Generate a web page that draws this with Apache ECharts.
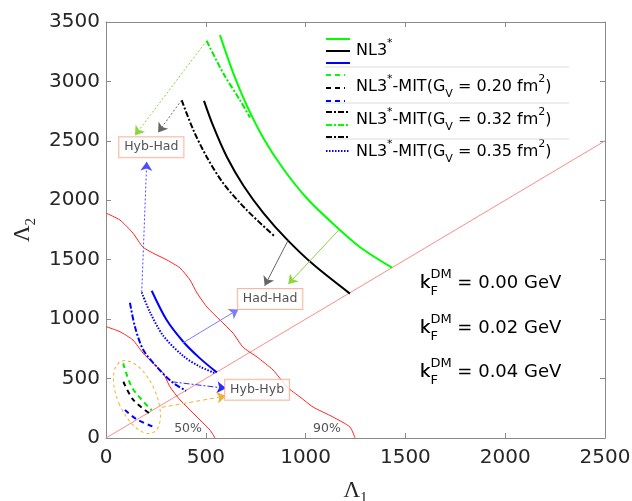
<!DOCTYPE html>
<html>
<head>
<meta charset="utf-8">
<script src="https://cdn.jsdelivr.net/npm/echarts@6/dist/echarts.min.js"></script>
<style>
  html, body { margin: 0; padding: 0; background: #fff; }
  #main { width: 632px; height: 501px; }
</style>
</head>
<body>
<div id="main"></div>
<script>
// axis ranges
var xRange = [0, 2500, 500];
var yRange = [0, 3500, 500];

// Λ2 = Λ1 line
var diagonal = [[0, 0], [2500, 2500]];

// credibility contours
var contour90 = [[3, 1890], [70, 1834], [135, 1724], [185, 1606], [235, 1556], [306, 1497], [371, 1430],
  [421, 1329], [456, 1220], [506, 1102], [571, 992], [636, 883], [686, 765], [757, 681], [837, 572],
  [907, 429], [972, 345], [1037, 261], [1137, 177], [1222, 93], [1248, 0]];
var contour50 = [[3, 936], [70, 894], [135, 824], [185, 715], [235, 631], [286, 547], [321, 429],
  [371, 320], [421, 236], [471, 151], [521, 67], [546, 0]];

// NL3* (solid)
var nl3Green = [[571, 3389], [638, 3067], [705, 2799], [788, 2525], [888, 2265], [1005, 2019], [1139, 1800], [1273, 1605], [1433, 1433]];
var nl3Black = [[491, 2837], [538, 2621], [605, 2366], [688, 2125], [788, 1895], [905, 1673], [1039, 1459], [1222, 1215]];
var nl3Blue = [[229, 1239], [304, 992], [387, 810], [471, 670], [555, 552]];

// NL3*-MIT Gv=0.32 (dash-dot)
var mit32Green = [[504, 3342], [588, 3067], [671, 2843], [721, 2697]];
var mit32Black = [[379, 2843], [438, 2590], [504, 2367], [588, 2142], [705, 1918], [842, 1701]];
var mit32Blue = [[120, 1138], [145, 936], [187, 740], [254, 600], [329, 473], [401, 397]];

// NL3*-MIT Gv=0.35 (dotted)
var mit35Blue = [[179, 1225], [220, 1060], [287, 860], [387, 690], [471, 600], [546, 546]];

// NL3*-MIT Gv=0.20 (dashed)
var mit20Green = [[86, 628], [132, 420], [229, 233]];
var mit20Black = [[87, 473], [137, 320], [229, 193]];
var mit20Blue = [[95, 235], [154, 157], [237, 95]];

// arrows: [from, to]
var arrowGreenHybHad = [[504, 3342], [145, 2546]];
var arrowGreenHadHad = [[1169, 1755], [913, 1295]];
var arrowGrayHybHad = [[379, 2843], [261, 2571]];
var arrowGrayHadHad = [[912, 1662], [795, 1280]];
var arrowBlueUp = [[179, 1225], [204, 2324]];
var arrowBlueHad = [[385, 800], [663, 1082]];
var arrowBlueHyb = [[329, 473], [601, 418]];
var arrowOrange = [[279, 258], [601, 353]];

// ellipse around the hybrid-hybrid curves (centre)
var ellipseCentre = [[155, 345]];

// boxed labels and contour labels
var boxLabels = [['Hyb-Had', 227, 2447], ['Had-Had', 822, 1169], ['Hyb-Hyb', 757, 406]];
var pctLabels = [['50%', 411, 81], ['90%', 1107, 81]];

var chart = echarts.init(document.getElementById('main'));

var FONT = 'DejaVu Sans';
var TXT = '#262626';

function curve(data, color, type, width) {
  return {
    type: 'line', data: data, showSymbol: false, symbol: 'none', smooth: 0.3,
    lineStyle: { color: color, width: width || 2, type: type || 'solid' },
    silent: true, z: 3
  };
}
function arrows(list, color, type) {
  return {
    type: 'lines', coordinateSystem: 'cartesian2d',
    symbol: ['none', 'arrow'], symbolSize: [0, 9],
    lineStyle: { color: color, width: 1, type: type || 'solid', opacity: 1 },
    data: list.map(function (p) { return { coords: p }; }),
    silent: true, z: 4
  };
}

var dashDot = [6, 2, 2, 2];
var dashed = [5, 4];
var dotted = [1.5, 1.5];

var axisCommon = {
  type: 'value',
  axisLine: { show: true, onZero: false, lineStyle: { color: '#8a8a8a', width: 1 } },
  axisTick: { show: true, inside: true, length: 5, lineStyle: { color: '#8a8a8a' } },
  splitLine: { show: false }
};
var tickLabel = { fontFamily: FONT, fontSize: 20, color: TXT, formatter: function (v) { return String(v); } };
var nameRich = {
  l: { fontFamily: 'Liberation Serif', fontSize: 23, color: TXT, lineHeight: 30 },
  s: { fontFamily: 'Liberation Serif', fontSize: 15, color: TXT, verticalAlign: 'bottom' }
};

// legend drawn as graphics: three stacked sample lines per entry
var legendX = 326;
var legendRows = [
  { y: 51, text: '{t|NL3}{sup|*}', lines: [[39, '#00ff00', 'solid', 24], [51, '#000', 'solid', 24], [63, '#0000ff', 'solid', 24]] },
  { y: 87, text: '{t|NL3}{sup|*}{t|-MIT(G}{sub|V}{t| = 0.20 fm}{sup|2}{t|)}', lines: [[75, '#00ff00', dashed, 19], [88, '#000', dashed, 19], [101, '#0000ff', dashed, 19]] },
  { y: 120, text: '{t|NL3}{sup|*}{t|-MIT(G}{sub|V}{t| = 0.32 fm}{sup|2}{t|)}', lines: [[112, '#000', dashDot, 23], [125, '#00ff00', dashDot, 23], [137, '#000', dashDot, 23]] },
  { y: 152, text: '{t|NL3}{sup|*}{t|-MIT(G}{sub|V}{t| = 0.35 fm}{sup|2}{t|)}', lines: [[151, '#0000ff', dotted, 23]] }
];
var richLegend = {
  t: { fontFamily: FONT, fontSize: 16, color: TXT, lineHeight: 26 },
  sup: { fontFamily: FONT, fontSize: 11, color: TXT, verticalAlign: 'top' },
  sub: { fontFamily: FONT, fontSize: 11, color: TXT, verticalAlign: 'bottom' }
};
var graphics = [];
legendRows.forEach(function (row) {
  row.lines.forEach(function (l) {
    graphics.push({
      type: 'line', shape: { x1: legendX, y1: l[0], x2: legendX + l[3], y2: l[0] },
      style: { stroke: l[1], lineWidth: 2, lineDash: l[2] === 'solid' ? null : l[2] }
    });
  });
  graphics.push({
    type: 'text', x: 356, y: row.y,
    style: { text: row.text, rich: richLegend, verticalAlign: 'middle', align: 'left' }
  });
});
[67, 103, 139].forEach(function (y) {
  graphics.push({ type: 'line', shape: { x1: 325, y1: y, x2: 569, y2: y }, style: { stroke: '#dcdcdc', lineWidth: 1 } });
});

// k_F^DM labels
var kfRows = [['0.00', '#66cc22', 283], ['0.02', '#000000', 328], ['0.04', '#0000ff', 372]];
kfRows.forEach(function (r) {
  var rich = {
    k: { fontFamily: FONT, fontSize: 18, color: r[1], lineHeight: 30 },
    kt: { fontFamily: FONT, fontSize: 18, color: 'rgba(0,0,0,0)', lineHeight: 30 },
    sup: { fontFamily: FONT, fontSize: 13, color: r[1], verticalAlign: 'top' },
    sub: { fontFamily: FONT, fontSize: 13, color: r[1], verticalAlign: 'bottom' }
  };
  graphics.push({ type: 'text', x: 420, y: r[2], style: { text: '{k|k}{sup|DM}{k| = ' + r[0] + ' GeV}', rich: rich, verticalAlign: 'middle' } });
  graphics.push({ type: 'text', x: 420, y: r[2], style: { text: '{kt|k}{sub|F}', rich: rich, verticalAlign: 'middle' } });
});

var option = {
  animation: false,
  backgroundColor: '#fff',
  grid: { left: 106, right: 27, top: 22, bottom: 63, outerBoundsMode: 'none', containLabel: false },
  xAxis: [
    Object.assign({}, axisCommon, {
      position: 'bottom', min: xRange[0], max: xRange[1], interval: xRange[2],
      axisLabel: Object.assign({ margin: 10 }, tickLabel),
      name: '{l|Λ}{s|1}', nameLocation: 'middle', nameGap: 38, nameTextStyle: { rich: nameRich }
    }),
    Object.assign({}, axisCommon, { position: 'top', min: xRange[0], max: xRange[1], interval: xRange[2], axisLabel: { show: false } })
  ],
  yAxis: [
    Object.assign({}, axisCommon, {
      position: 'left', min: yRange[0], max: yRange[1], interval: yRange[2],
      axisLabel: Object.assign({ margin: 6 }, tickLabel),
      name: '{l|Λ}{s|2}', nameLocation: 'middle', nameGap: 63, nameRotate: 90, nameTextStyle: { rich: nameRich }
    }),
    Object.assign({}, axisCommon, { position: 'right', min: yRange[0], max: yRange[1], interval: yRange[2], axisLabel: { show: false } })
  ],
  graphic: graphics,
  series: [
    { type: 'line', data: diagonal, showSymbol: false, lineStyle: { color: '#ff8a8a', width: 1 }, silent: true, z: 1 },
    { type: 'line', data: contour90, showSymbol: false, smooth: 0.2, lineStyle: { color: '#ff2020', width: 1 }, silent: true, z: 2 },
    { type: 'line', data: contour50, showSymbol: false, smooth: 0.2, lineStyle: { color: '#ff2020', width: 1 }, silent: true, z: 2 },
    curve(nl3Green, '#00ff00'),
    curve(nl3Black, '#000000'),
    curve(nl3Blue, '#0000ff'),
    curve(mit32Green, '#00ee00', dashDot),
    curve(mit32Black, '#000000', dashDot),
    curve(mit32Blue, '#0000ff', dashDot),
    curve(mit35Blue, '#0000ff', dotted),
    curve(mit20Green, '#00ee00', dashed),
    curve(mit20Black, '#000000', dashed),
    curve(mit20Blue, '#0000ff', dashed),
    arrows([arrowGreenHybHad], '#88d83a', [2, 2]),
    arrows([arrowGreenHadHad], '#88d83a'),
    arrows([arrowGrayHybHad], '#666666', [2, 2]),
    arrows([arrowGrayHadHad], '#666666'),
    arrows([arrowBlueUp], '#4d4dff', [2, 2]),
    arrows([arrowBlueHad], '#7c7cff'),
    arrows([arrowBlueHyb], '#2a2aff', dashDot),
    arrows([arrowOrange], '#f2b134', [4, 3]),
    {
      type: 'custom', data: ellipseCentre, silent: true, z: 4,
      renderItem: function (params, api) {
        var c = api.coord([api.value(0), api.value(1)]);
        return {
          type: 'ellipse', x: c[0], y: c[1], rotation: 24 * Math.PI / 180,
          shape: { cx: 0, cy: 0, rx: 19, ry: 39 },
          style: { fill: 'none', stroke: '#f2b134', lineWidth: 1, lineDash: [3, 3] }
        };
      }
    },
    {
      type: 'scatter', symbolSize: 0, silent: true, z: 6,
      data: boxLabels.map(function (b) { return { name: b[0], value: [b[1], b[2]] }; }),
      label: {
        show: true, position: 'inside', formatter: '{b}', fontFamily: FONT, fontSize: 12.5, color: TXT,
        backgroundColor: '#fff', borderColor: '#f2a98c', borderWidth: 1, padding: [4, 5, 3, 5]
      }
    },
    {
      type: 'scatter', symbolSize: 0, silent: true, z: 6,
      data: pctLabels.map(function (b) { return { name: b[0], value: [b[1], b[2]] }; }),
      label: { show: true, position: 'inside', formatter: '{b}', fontFamily: FONT, fontSize: 12.5, color: TXT }
    }
  ]
};

chart.setOption(option);
</script>
</body>
</html>
